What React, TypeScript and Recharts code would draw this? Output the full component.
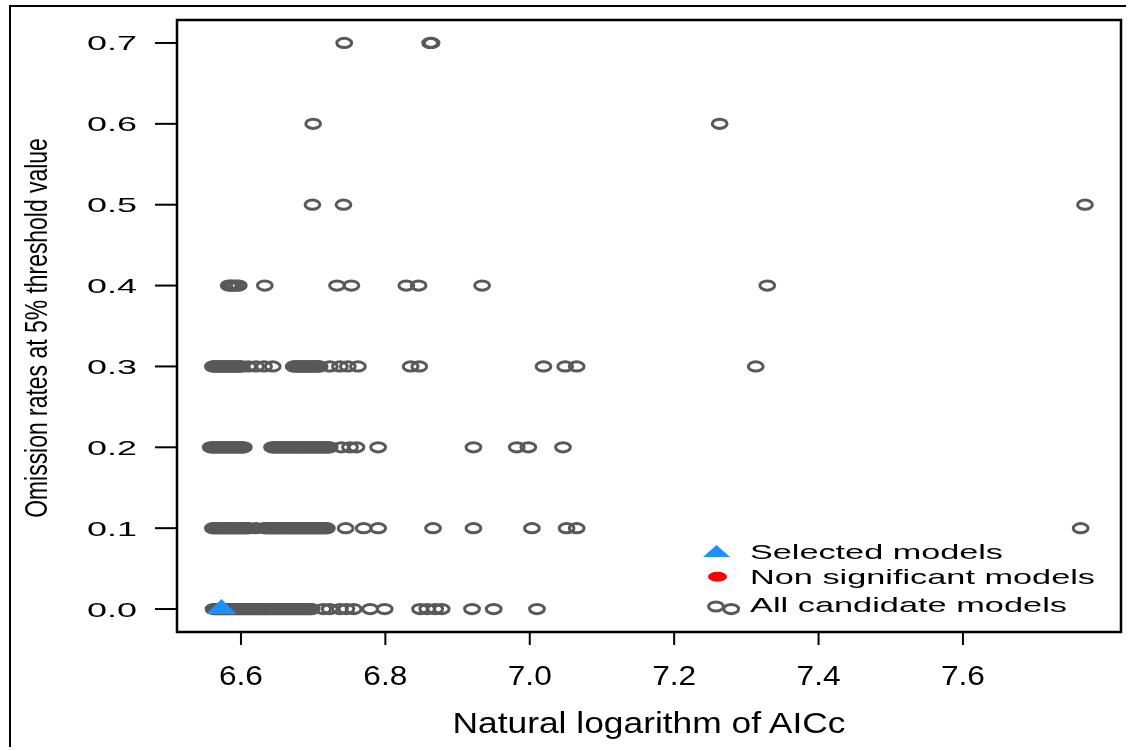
import {
  ScatterChart,
  Scatter,
  XAxis,
  YAxis,
  ReferenceArea,
  Customized,
} from 'recharts';

// ln(AICc) of each candidate model, grouped by its omission rate
const aiccRate00 = [
  6.562, 6.564, 6.566, 6.568, 6.570, 6.572, 6.574, 6.576, 6.578, 6.580,
  6.582, 6.584, 6.586, 6.588, 6.590, 6.592, 6.594, 6.596, 6.598, 6.600,
  6.602, 6.604, 6.606, 6.608, 6.610, 6.612, 6.614, 6.616, 6.618, 6.620,
  6.622, 6.624, 6.626, 6.628, 6.630, 6.632, 6.634, 6.636, 6.638, 6.640,
  6.642, 6.644, 6.646, 6.648, 6.650, 6.652, 6.654, 6.656, 6.658, 6.660,
  6.662, 6.664, 6.666, 6.668, 6.670, 6.672, 6.674, 6.676, 6.678, 6.680,
  6.682, 6.684, 6.686, 6.688, 6.690, 6.692, 6.694, 6.696, 6.698,
  6.714, 6.723, 6.737, 6.746, 6.756, 6.779, 6.799, 6.848, 6.858, 6.869, 6.878, 6.92, 6.95, 7.01,
  7.279,
];
const aiccRate01 = [
  6.561, 6.563, 6.565, 6.567, 6.569, 6.571, 6.573, 6.575, 6.577, 6.579,
  6.581, 6.583, 6.585, 6.587, 6.589, 6.591, 6.593, 6.595, 6.597, 6.599,
  6.601, 6.603, 6.605, 6.607, 6.609, 6.611, 6.621,
  6.633, 6.635, 6.637, 6.639, 6.641, 6.643, 6.645, 6.647, 6.649, 6.651,
  6.653, 6.655, 6.657, 6.659, 6.661, 6.663, 6.665, 6.667, 6.669, 6.671,
  6.673, 6.675, 6.677, 6.679, 6.681, 6.683, 6.685, 6.687, 6.689, 6.691,
  6.693, 6.695, 6.697, 6.699, 6.701, 6.703, 6.705, 6.707, 6.709, 6.711,
  6.713, 6.715, 6.717, 6.719,
  6.745, 6.77, 6.79, 6.866, 6.922, 7.003, 7.051, 7.065, 7.763,
];
const aiccRate02 = [
  6.558, 6.560, 6.562, 6.564, 6.566, 6.568, 6.570, 6.572, 6.574, 6.576,
  6.578, 6.580, 6.582, 6.584, 6.586, 6.588, 6.590, 6.592, 6.594, 6.596,
  6.598, 6.600, 6.602, 6.604,
  6.643, 6.645, 6.647, 6.649, 6.651, 6.653, 6.655, 6.657, 6.659, 6.661,
  6.663, 6.665, 6.667, 6.669, 6.671, 6.673, 6.675, 6.677, 6.679, 6.681,
  6.683, 6.685, 6.687, 6.689, 6.691, 6.693, 6.695, 6.697, 6.699, 6.701,
  6.703, 6.705, 6.707, 6.709, 6.711, 6.713, 6.715, 6.717, 6.719, 6.721,
  6.723,
  6.739, 6.751, 6.76, 6.79, 6.922, 6.982, 6.998, 7.046,
];
const aiccRate03 = [
  6.561, 6.563, 6.565, 6.567, 6.569, 6.571, 6.573, 6.575, 6.577, 6.579,
  6.581, 6.583, 6.585, 6.587, 6.589, 6.591, 6.593, 6.595, 6.597, 6.599,
  6.601, 6.61, 6.621, 6.632, 6.644,
  6.673, 6.675, 6.677, 6.679, 6.681, 6.683, 6.685, 6.687, 6.689, 6.691,
  6.693, 6.695, 6.697, 6.699, 6.701, 6.703, 6.705, 6.707, 6.709,
  6.723, 6.737, 6.748, 6.762, 6.835, 6.847, 7.019, 7.049, 7.065, 7.313,
];
const aiccRate04 = [6.583, 6.586, 6.589, 6.593, 6.597, 6.633, 6.733, 6.753, 6.829, 6.846, 6.934, 7.329];
const aiccRate05 = [6.699, 6.742, 7.769];
const aiccRate06 = [6.7, 7.263];
const aiccRate07 = [6.743, 6.862, 6.864];

const rateLevels = [0, 0.1, 0.2, 0.3, 0.4, 0.5, 0.6, 0.7];
const aiccByRate = [aiccRate00, aiccRate01, aiccRate02, aiccRate03, aiccRate04, aiccRate05, aiccRate06, aiccRate07];

const selectedAicc = [6.573];
const selectedRate = [0];
const nonSignificant: { x: number; y: number }[] = [];

const xTicks = [6.6, 6.8, 7.0, 7.2, 7.4, 7.6];
const yTicks = [0, 0.1, 0.2, 0.3, 0.4, 0.5, 0.6, 0.7];

const xDomain: [number, number] = [6.5114, 7.8189];
const yDomain: [number, number] = [-0.0284, 0.7284];

const candidates = aiccByRate.flatMap((list, i) => list.map((x) => ({ x, y: rateLevels[i] })));
const selected = selectedAicc.map((x, i) => ({ x, y: selectedRate[i] }));

const FONT = '"Liberation Sans", Arial, Helvetica, sans-serif';
const GREY = '#595959';
const BLUE = '#1e90ff';

function OpenCircle(props: any) {
  const { cx, cy } = props;
  return <ellipse cx={cx} cy={cy} rx={7.4} ry={4.6} fill="none" stroke={GREY} strokeWidth={3} />;
}

function Triangle(props: any) {
  const { cx, cy } = props;
  return <polygon points={`${cx},${cy - 10} ${cx - 15},${cy + 5} ${cx + 15},${cy + 5}`} fill={BLUE} />;
}

function RedDot(props: any) {
  const { cx, cy } = props;
  return <ellipse cx={cx} cy={cy} rx={9.5} ry={5} fill="#ff0000" />;
}

function YTick(props: any) {
  const { x, y, payload } = props;
  return (
    <text x={x} y={y} textAnchor="end" dominantBaseline="central" fontFamily={FONT} fontSize={21}
      fill="#000" textLength={50} lengthAdjust="spacingAndGlyphs">
      {Number(payload.value).toFixed(1)}
    </text>
  );
}

function XTick(props: any) {
  const { x, y, payload } = props;
  return (
    <text x={x} y={y} dy="0.72em" textAnchor="middle" fontFamily={FONT} fontSize={27}
      fill="#000" textLength={44} lengthAdjust="spacingAndGlyphs">
      {Number(payload.value).toFixed(1)}
    </text>
  );
}

// axis titles and the legend, in svg coordinates
function Extras() {
  return (
    <g fontFamily={FONT} fill="#000">
      <text x={641} y={725} textAnchor="middle" fontSize={30} textLength={393} lengthAdjust="spacingAndGlyphs">
        Natural logarithm of AICc
      </text>
      <g transform="translate(39, 320) rotate(-90) scale(0.74, 1)">
        <text x={0} y={0} textAnchor="middle" fontSize={31}>
          Omission rates at 5% threshold value
        </text>
      </g>
      <polygon points="708.5,537 695,549 722,549" fill={BLUE} />
      <ellipse cx={709.5} cy={568.7} rx={9.5} ry={5} fill="#ff0000" />
      <ellipse cx={708} cy={598.5} rx={7.4} ry={4.6} fill="none" stroke={GREY} strokeWidth={3} />
      <text x={742} y={551} fontSize={21} textLength={253} lengthAdjust="spacingAndGlyphs">Selected models</text>
      <text x={742} y={576} fontSize={21} textLength={345} lengthAdjust="spacingAndGlyphs">Non significant models</text>
      <text x={742} y={604} fontSize={21} textLength={317} lengthAdjust="spacingAndGlyphs">All candidate models</text>
    </g>
  );
}

export default function App() {
  return (
    <div style={{ position: 'relative' }}>
      <div
        style={{
          position: 'fixed',
          left: 9,
          top: 5,
          width: 1115,
          height: 740,
          borderTop: '2px solid #000',
          borderLeft: '2px solid #000',
          pointerEvents: 'none',
        }}
      />
      <ScatterChart width={1115} height={735} margin={{ top: 12, right: 2, left: 109, bottom: 51 }}>
        <XAxis
          type="number"
          dataKey="x"
          domain={xDomain}
          ticks={xTicks}
          allowDataOverflow
          axisLine={false}
          tickSize={13}
          tickMargin={21}
          tickLine={{ stroke: '#000', strokeWidth: 2 }}
          tick={<XTick />}
          height={60}
        />
        <YAxis
          type="number"
          dataKey="y"
          domain={yDomain}
          ticks={yTicks}
          allowDataOverflow
          axisLine={false}
          tickSize={22}
          tickMargin={18}
          tickLine={{ stroke: '#000', strokeWidth: 2 }}
          tick={<YTick />}
          width={60}
        />
        <ReferenceArea
          x1={xDomain[0]}
          x2={xDomain[1]}
          y1={yDomain[0]}
          y2={yDomain[1]}
          fill="none"
          stroke="#000"
          strokeWidth={2.5}
          ifOverflow="visible"
        />
        <Scatter name="All candidate models" data={candidates} shape={<OpenCircle />} isAnimationActive={false} />
        <Scatter name="Non significant models" data={nonSignificant} shape={<RedDot />} isAnimationActive={false} />
        <Scatter name="Selected models" data={selected} shape={<Triangle />} isAnimationActive={false} />
        <Customized component={<Extras />} />
      </ScatterChart>
    </div>
  );
}
